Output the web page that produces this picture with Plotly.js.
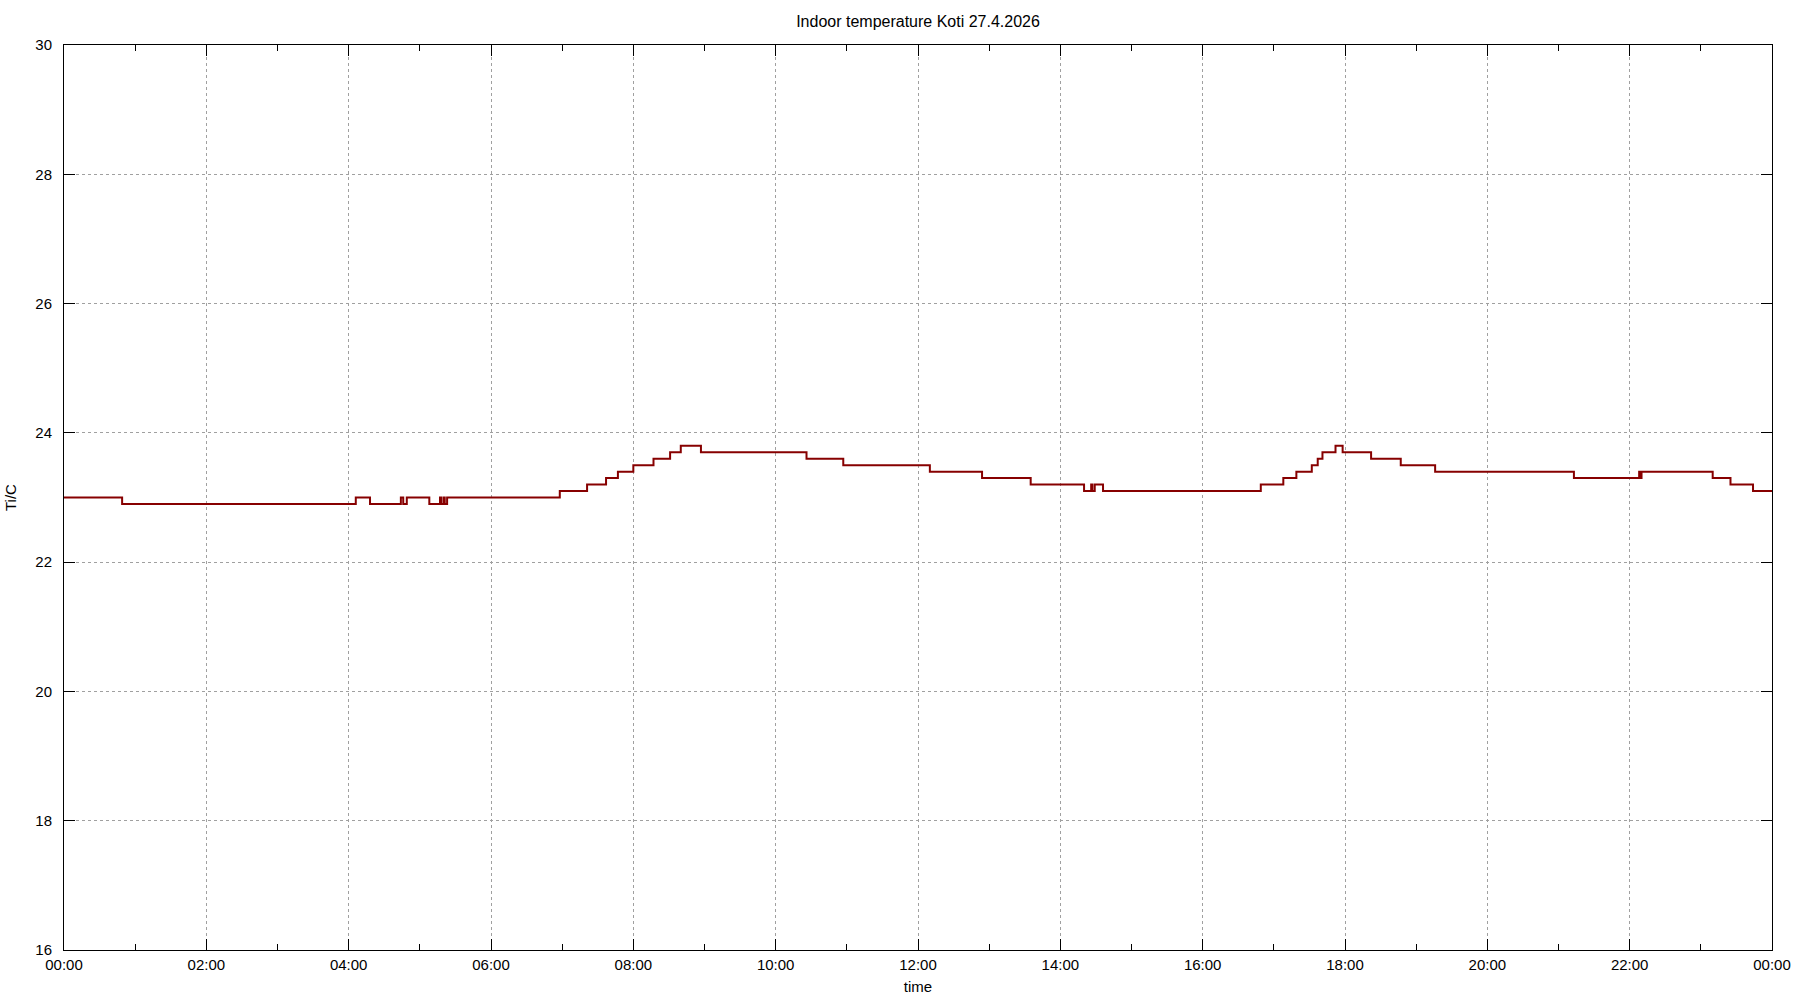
<!DOCTYPE html>
<html>
<head>
<meta charset="utf-8">
<script src="https://cdn.plot.ly/plotly-3.0.1.min.js"></script>
<style>html,body{margin:0;padding:0;background:#fff;}#chart{width:1800px;height:1000px;}</style>
</head>
<body>
<div id="chart"></div>
<script>
var chartTitle = "Indoor temperature Koti 27.4.2026";
var xLabel = "time";
var yLabel = "Ti/C";
var day = "2026-04-27";
var nextDay = "2026-04-28";

var times = ["00:00","00:49","04:06","04:18","04:44","04:46","04:49","05:08","05:17","05:18","05:20","05:21","05:23",
  "06:58","07:21","07:37","07:47","08:00","08:17","08:31","08:40","08:57","10:26","10:57","12:10","12:54","13:35",
  "14:20","14:26","14:27","14:29","14:36","16:49","17:08","17:19","17:32","17:37","17:41","17:52","17:58","18:22",
  "18:47","19:16","21:13","22:08","22:09","22:10","23:10","23:25","23:44"];
var temps = [23.0,22.9,23.0,22.9,23.0,22.9,23.0,22.9,23.0,22.9,23.0,22.9,23.0,
  23.1,23.2,23.3,23.4,23.5,23.6,23.7,23.8,23.7,23.6,23.5,23.4,23.3,23.2,
  23.1,23.2,23.1,23.2,23.1,23.2,23.3,23.4,23.5,23.6,23.7,23.8,23.7,23.6,
  23.5,23.4,23.3,23.4,23.3,23.4,23.3,23.2,23.1];
var endTemp = 23.1;

var xs = times.map(function(t){ return day + " " + t; });
xs.push(nextDay + " 00:00");
var ys = temps.slice();
ys.push(endTemp);

var font = {family: "Liberation Sans, Arial, sans-serif", size: 15, color: "#000"};
var titleFont = {family: "Liberation Sans, Arial, sans-serif", size: 16, color: "#000"};

var trace = {
  x: xs, y: ys, type: "scatter", mode: "lines",
  line: {shape: "hv", color: "#870000", width: 2},
  hoverinfo: "skip"
};

var layout = {
  width: 1800, height: 1000,
  paper_bgcolor: "#fff", plot_bgcolor: "#fff",
  margin: {l: 64, r: 28, t: 45, b: 50, pad: 0},
  font: font,
  showlegend: false,
  title: {text: chartTitle, x: 0.5, xref: "paper", y: 0.979, yref: "container", yanchor: "middle", font: titleFont},
  xaxis: {
    type: "date",
    range: [day + " 00:00", nextDay + " 00:00"],
    tickformat: "%H:%M",
    dtick: 7200000,
    tick0: day + " 00:00",
    ticks: "inside", ticklen: 11, tickwidth: 1, tickcolor: "#000",
    showline: true, linecolor: "#000", linewidth: 1, mirror: "allticks",
    showgrid: true, gridcolor: "#a0a0a0", gridwidth: 1, griddash: "dot",
    zeroline: false,
    minor: {dtick: 3600000, tick0: day + " 00:00", ticks: "inside", ticklen: 6, tickcolor: "#000", showgrid: false},
    tickfont: font,
    ticklabelstandoff: 1,
    title: {text: xLabel, font: font, standoff: 9}
  },
  yaxis: {
    range: [16, 30],
    dtick: 2, tick0: 16,
    ticks: "inside", ticklen: 11, tickwidth: 1, tickcolor: "#000",
    showline: true, linecolor: "#000", linewidth: 1, mirror: "allticks",
    showgrid: true, gridcolor: "#a0a0a0", gridwidth: 1, griddash: "dot",
    zeroline: false,
    tickfont: font,
    ticklabelstandoff: 8,
    title: {text: yLabel, font: font, standoff: 15}
  }
};

Plotly.newPlot("chart", [trace], layout, {staticPlot: true, displayModeBar: false});
</script>
</body>
</html>
